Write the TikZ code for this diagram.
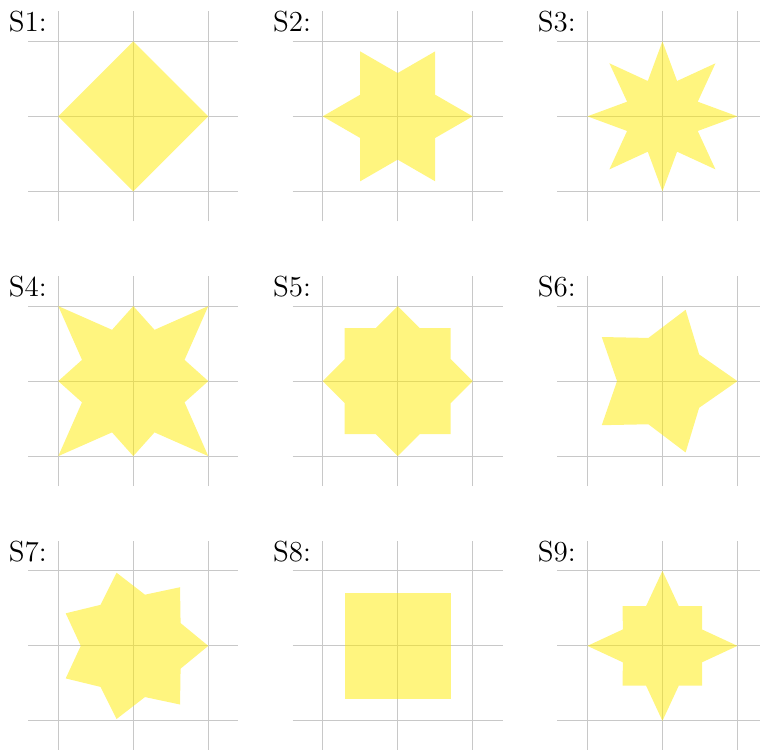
\documentclass[tikz,border=0pt]{standalone}
\definecolor{staryellow}{RGB}{255,235,0}
\definecolor{gridgray}{RGB}{200,200,200}
\tikzset{
  gridline/.style={draw=gridgray, line width=0.45pt},
  starfill/.style={fill=staryellow, fill opacity=0.5},
  panellabel/.style={anchor=base west, inner sep=0pt, font=\fontsize{11}{13}\selectfont},
}
\begin{document}
\begin{tikzpicture}
\clip (-1.777,1.551) rectangle (8.356,-8.436);
% S1
\begin{scope}[shift={(0,0)}]
  \draw[gridline] (-1.4,-1.4) grid (1.4,1.4);
  \fill[starfill] (0:1) -- (90:1) -- (180:1) -- (270:1) -- cycle;
  \node[panellabel] (l1) at (-1.667,1.128) {S1:};
\end{scope}
% S2
\begin{scope}[shift={(3.525,0)}]
  \draw[gridline] (-1.4,-1.4) grid (1.4,1.4);
  \fill[starfill] (0:1) \foreach \k in {1,...,6} { -- ({(\k-0.5)*60}:0.577) -- ({\k*60}:1) } -- cycle;
  \node[panellabel] (l2) at (-1.667,1.128) {S2:};
\end{scope}
% S3
\begin{scope}[shift={(7.055,0)}]
  \draw[gridline] (-1.4,-1.4) grid (1.4,1.4);
  \fill[starfill] (0:1) \foreach \k in {1,...,8} { -- ({(\k-0.5)*45}:0.51) -- ({\k*45}:1) } -- cycle;
  \node[panellabel] (l3) at (-1.667,1.128) {S3:};
\end{scope}
% S4
\begin{scope}[shift={(0,-3.53)}]
  \draw[gridline] (-1.4,-1.4) grid (1.4,1.4);
  \fill[starfill] (0:1) -- (22.5:0.74) -- (45:1.4142) -- (67.5:0.74) -- (90:1) -- (112.5:0.74) -- (135:1.4142) -- (157.5:0.74)
    -- (180:1) -- (202.5:0.74) -- (225:1.4142) -- (247.5:0.74) -- (270:1) -- (292.5:0.74) -- (315:1.4142) -- (337.5:0.74) -- cycle;
  \node[panellabel] (l4) at (-1.667,1.128) {S4:};
\end{scope}
% S5
\begin{scope}[shift={(3.525,-3.53)}]
  \draw[gridline] (-1.4,-1.4) grid (1.4,1.4);
  \fill[starfill] (0:1) \foreach \k in {1,...,8} { -- ({(\k-0.5)*45}:0.7654) -- ({\k*45}:1) } -- cycle;
  \node[panellabel] (l5) at (-1.667,1.128) {S5:};
\end{scope}
% S6
\begin{scope}[shift={(7.055,-3.53)}]
  \draw[gridline] (-1.4,-1.4) grid (1.4,1.4);
  \fill[starfill] (0:1) \foreach \k in {1,...,5} { -- ({(\k-0.5)*72}:0.605) -- ({\k*72}:1) } -- cycle;
  \node[panellabel] (l6) at (-1.667,1.128) {S6:};
\end{scope}
% S7
\begin{scope}[shift={(0,-7.06)}]
  \draw[gridline] (-1.4,-1.4) grid (1.4,1.4);
  \fill[starfill] (0:1) \foreach \k in {1,...,7} { -- ({(\k-0.5)*360/7}:0.7) -- ({\k*360/7}:1) } -- cycle;
  \node[panellabel] (l7) at (-1.667,1.128) {S7:};
\end{scope}
% S8
\begin{scope}[shift={(3.525,-7.06)}]
  \draw[gridline] (-1.4,-1.4) grid (1.4,1.4);
  \fill[starfill] (45:1) -- (135:1) -- (225:1) -- (315:1) -- cycle;
  \node[panellabel] (l8) at (-1.667,1.128) {S8:};
\end{scope}
% S9
\begin{scope}[shift={(7.055,-7.06)}]
  \draw[gridline] (-1.4,-1.4) grid (1.4,1.4);
  \fill[starfill] (0:1) -- (22.5:0.572) -- (45:0.75) -- (67.5:0.572) -- (90:1) -- (112.5:0.572) -- (135:0.75) -- (157.5:0.572)
    -- (180:1) -- (202.5:0.572) -- (225:0.75) -- (247.5:0.572) -- (270:1) -- (292.5:0.572) -- (315:0.75) -- (337.5:0.572) -- cycle;
  \node[panellabel] (l9) at (-1.667,1.128) {S9:};
\end{scope}
\end{tikzpicture}
\end{document}
